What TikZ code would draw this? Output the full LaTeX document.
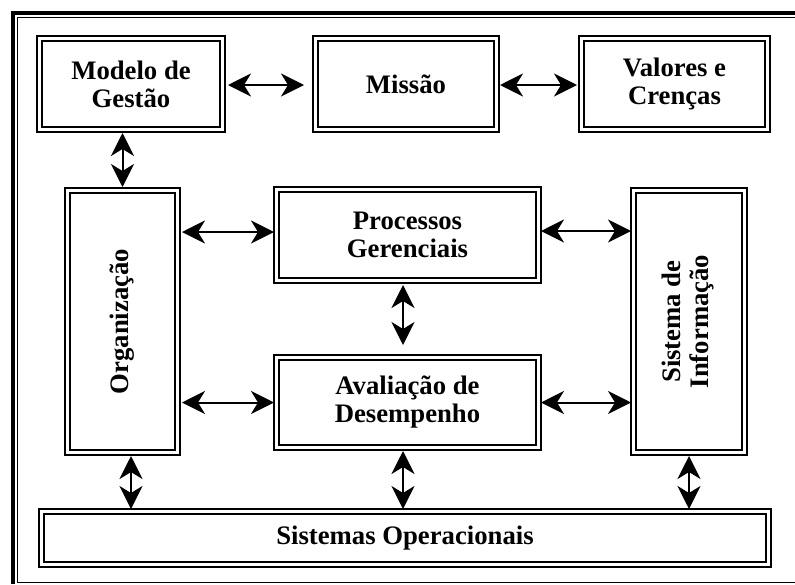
\documentclass[tikz,border=0pt]{standalone}
\usepackage{fontspec}
\setmainfont{Liberation Serif}
\usepackage{graphicx}
\usetikzlibrary{arrows.meta,calc}
\newcommand\boxfont{\bfseries\fontsize{26.7}{28}\selectfont}
\begin{document}
\begin{tikzpicture}[x=1pt,y=-1pt,
  dbox/.style={draw, line width=1.2pt, font=\boxfont, align=center, inner sep=0pt, outer sep=0pt},
  innerline/.style={line width=2.4pt},
  link/.style={line width=2pt, {Stealth[length=23pt,width=23pt,inset=7pt]}-{Stealth[length=23pt,width=23pt,inset=7pt]}}]
\useasboundingbox (0,0) rectangle (795,584);
% frame
\draw[line width=4pt] (12.5,584) -- (12.5,12.5) -- (795,12.5);
\draw[line width=1.2pt] (795,17.5) -- (17.5,17.5) -- (17.5,582.5) -- (795,582.5);
% boxes
\node[dbox, minimum width=188, minimum height=96] (mg) at (131,84) {Modelo de\\Gestão};
\node[dbox, minimum width=186, minimum height=96] (mi) at (406,84) {Missão};
\node[dbox, minimum width=191, minimum height=96] (vc) at (674.5,84) {Valores e\\Crenças};
\node[dbox, minimum width=115, minimum height=267] (org) at (122.5,321.5) {\rotatebox{90}{Organização}};
\node[dbox, minimum width=267, minimum height=96] (pg) at (407.5,235) {Processos\\Gerenciais};
\node[dbox, minimum width=267, minimum height=95] (ad) at (407.5,402.5) {Avaliação de\\Desempenho};
\node[dbox, minimum width=116, minimum height=267] (si) at (689,321.5) {\rotatebox{90}{\begin{tabular}{@{}c@{}}Sistema de\\Informação\end{tabular}}};
\node[dbox, minimum width=732, minimum height=58] (so) at (405,538) {Sistemas Operacionais};
\foreach \n in {mg,mi,vc,org,pg,ad,si,so}
  \draw[innerline] ([shift={(5,5)}]\n.north west) rectangle ([shift={(-5,-5)}]\n.south east);
% connectors
\draw[link, shorten <=3pt, shorten >=9pt] ([yshift=-1]mg.east) -- ([yshift=-1]mi.west);
\draw[link, shorten <=1pt, shorten >=2pt] ([yshift=-1]mi.east) -- ([yshift=-1]vc.west);
\draw[link, shorten <=1pt, shorten >=1pt] (org.north |- mg.south) -- (org.north);
\draw[link, shorten <=2pt, shorten >=0pt] ([yshift=3]pg.west -| org.east) -- ([yshift=3]pg.west);
\draw[link, shorten <=0pt, shorten >=0pt] ([yshift=4]pg.east) -- ([yshift=4]pg.east -| si.west);
\draw[link, shorten <=2pt, shorten >=0pt] (ad.west -| org.east) -- (ad.west);
\draw[link, shorten <=0pt, shorten >=0pt] (ad.east) -- (ad.east -| si.west);
\draw[link, shorten <=2pt, shorten >=10pt] ([xshift=-4.5]pg.south) -- ([xshift=-4.5]pg.south |- ad.north);
\draw[link, shorten <=1pt, shorten >=0pt] ([xshift=-4.5]ad.south) -- ([xshift=-4.5]ad.south |- so.north);
\draw[link, shorten <=1pt, shorten >=0pt] ([xshift=8.5]org.south) -- ([xshift=8.5]org.south |- so.north);
\draw[link, shorten <=1pt, shorten >=0pt] (si.south) -- (si.south |- so.north);
\end{tikzpicture}
\end{document}
